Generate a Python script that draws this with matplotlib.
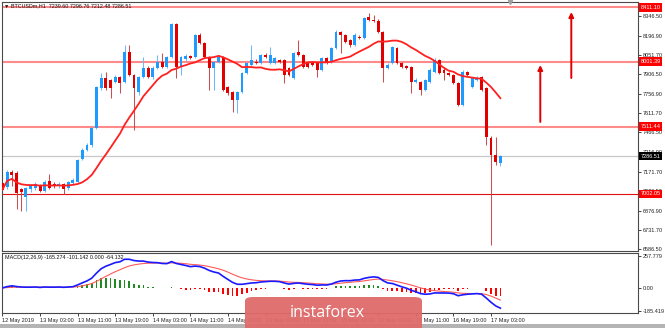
import numpy as np
import pandas as pd
import matplotlib
matplotlib.use("Agg")
import matplotlib.pyplot as plt
import matplotlib.transforms as mtransforms
from matplotlib.patches import Rectangle, FancyBboxPatch

# ---------------- data ----------------
opens = [7085, 7055, 7168, 7160, 7040, 6980, 7040, 7045, 7065, 7025,
         7100, 7075, 7060, 7075, 7045, 7085, 7095, 7265, 7335, 7370,
         7500, 7803, 7878, 7863, 7848, 7886, 7848, 8074, 7900, 7772,
         7886, 7954, 7886, 7954, 7999, 7961, 8037, 8286, 7961, 8020,
         8044, 8037, 8203, 8142, 8037, 7954, 7999, 8037, 7810, 7772,
         7712, 7772, 7916, 7976, 8000, 7991, 8052, 7991, 7991, 8014,
         8014, 7954, 7878, 8074, 8052, 7999, 7991, 7991, 7939, 8029,
         7999, 8105, 8225, 8203, 8165, 8127, 8188, 8180, 8339, 8316,
         8309, 8225, 7954, 7991, 8105, 7991, 7965, 7961, 7848, 7848,
         7787, 7848, 7923, 8014, 7939, 7916, 7900, 7840, 7674, 7923,
         7810, 7863, 7886, 7803, 7425, 7296, 7239.60]
closes = [7035, 7168, 7145, 7010, 7020, 7045, 7060, 7075, 7025, 7095,
          7050, 7060, 7080, 7040, 7090, 7105, 7260, 7335, 7370, 7500,
          7810, 7878, 7803, 7803, 7886, 7840, 8074, 7900, 7803, 7886,
          7954, 7886, 7954, 7999, 7961, 8037, 8286, 7961, 8037, 8044,
          8029, 8203, 8142, 8037, 7954, 7999, 8037, 7787, 7765, 7712,
          7772, 7916, 7991, 8014, 7990, 8052, 8037, 8052, 8029, 7999,
          7900, 7900, 8067, 8052, 7961, 7961, 7976, 7939, 8029, 7991,
          8105, 8225, 8203, 8150, 8127, 8203, 8180, 8331, 8316, 8309,
          8225, 7954, 7976, 8112, 7991, 7961, 7954, 7848, 7863, 7787,
          7863, 7939, 8014, 7916, 7916, 7900, 7840, 7674, 7923, 7900,
          7878, 7878, 7787, 7432, 7296, 7244, 7286.51]
highs = [7100, 7180, 7180, 7175, 7050, 7055, 7080, 7090, 7075, 7105,
         7150, 7095, 7095, 7085, 7100, 7120, 7270, 7350, 7385, 7510,
         7815, 7916, 7923, 7870, 7900, 7895, 8127, 8127, 7910, 7895,
         8037, 7965, 7965, 8052, 8067, 8045, 8290, 8290, 8045, 8060,
         8050, 8210, 8215, 8150, 8045, 8010, 8050, 8045, 7820, 7780,
         7780, 7925, 8000, 8127, 8020, 8060, 8065, 8112, 8040, 8025,
         8020, 7960, 8075, 8165, 8060, 8010, 8000, 8000, 8040, 8040,
         8115, 8240, 8235, 8210, 8175, 8215, 8200, 8340, 8369, 8354,
         8320, 8235, 7990, 8120, 8115, 8000, 7975, 7970, 7875, 7855,
         7870, 7950, 8030, 8025, 7950, 7925, 7910, 7850, 7935, 7930,
         7885, 7895, 7895, 7810, 7440, 7432, 7296.76]
lows = [6975, 7040, 7060, 6885, 6875, 6870, 7020, 7030, 7015, 7015,
        7040, 7050, 7050, 7005, 7035, 7075, 7085, 7255, 7325, 7355,
        7490, 7790, 7790, 7727, 7840, 7765, 7840, 7890, 7485, 7750,
        7875, 7875, 7870, 7945, 7950, 7950, 8030, 7878, 7900, 8010,
        8020, 8030, 8135, 8030, 7787, 7787, 7990, 7780, 7750, 7621,
        7615, 7765, 7905, 7965, 7980, 7980, 8030, 7985, 7985, 7990,
        7840, 7890, 7870, 8045, 7950, 7950, 7970, 7885, 7930, 7980,
        7990, 8095, 8067, 8140, 8115, 8120, 8170, 8170, 8305, 8300,
        8215, 7848, 7945, 7980, 7980, 7950, 7945, 7765, 7840, 7750,
        7780, 7840, 7915, 7905, 7863, 7890, 7830, 7665, 7665, 7890,
        7800, 7855, 7780, 7372, 6617, 7220, 7212.48]

time_labels = ["12 May 2019", "13 May 03:00", "13 May 11:00", "13 May 19:00",
               "14 May 03:00", "14 May 11:00", "14 May 19:00", "15 May 03:00",
               "15 May 11:00", "15 May 19:00", "16 May 03:00", "16 May 11:00",
               "16 May 19:00", "17 May 03:00"]
label_every = 8

price_ticks = [8346.50, 8196.90, 8051.70, 7906.50, 7756.90, 7611.70, 7466.50,
               7316.90, 7171.70, 7026.50, 6876.90, 6731.70, 6586.50]
level_lines = [8411.10, 8001.39, 7511.44]
support_line = 7002.05
current_price = 7286.51
macd_ticks = [257.779, 0.0, -185.419]
macd_tick_labels = ["257.779", "0.00", "-185.419"]

ma_period = 15
arrow_x = [114.5, 121.1]
arrow_from = [7546, 7878]
arrow_to = [7976, 8376]

title_text = "\u25bc BTCUSDm,H1  7239.60 7296.76 7212.48 7286.51"
macd_text = "MACD(12,26,9) -165.274 -101.142 0.000 -64.132"

# ---------------- derived ----------------
o = np.array(opens, float); c = np.array(closes, float)
h = np.array(highs, float); l = np.array(lows, float)
n = len(o)
x = np.arange(n)
cs = pd.Series(c)
ma = cs.rolling(ma_period, min_periods=1).mean()
ema12 = cs.ewm(span=12, adjust=False).mean()
ema26 = cs.ewm(span=26, adjust=False).mean()
macd = ema12 - ema26
signal = macd.ewm(span=9, adjust=False).mean()
hist = macd - signal

# ---------------- figure ----------------
W, H = 665, 328
fig = plt.figure(figsize=(W / 100, H / 100), dpi=100)
fig.patch.set_facecolor("white")
plt.rcParams["font.family"] = ["Liberation Sans", "DejaVu Sans"]


def rect(x0, y0, x1, y1):
    return [x0 / W, 1 - y1 / H, (x1 - x0) / W, (y1 - y0) / H]


XL = (-0.1, 135.3)
FS = 4.0
frame_col = "#4a4a4a"

ax = fig.add_axes(rect(2, 2, 638, 251))
ax.set_xlim(*XL)
ax.set_ylim(6571.4, 8452.0)
for s in ax.spines.values():
    s.set_color(frame_col)
    s.set_linewidth(0.8)

bull = c >= o
body_col = np.where(bull, "#1E9BFF", "#E00000")
wick_col = np.where(bull, "#6DB8FF", "#C85050")

# horizontal levels
for lv in level_lines:
    ax.axhline(lv, color="#ff8a8a", lw=1.5, zorder=1)
ax.axhline(support_line, color="#e01010", lw=0.8, zorder=1)
ax.axhline(current_price, color="#c8c8c8", lw=0.9, zorder=1)

ax.vlines(x, l, h, colors=wick_col, lw=0.75, zorder=2)
body_h = np.maximum(np.abs(c - o), 4.0)
ax.bar(x, body_h, bottom=np.minimum(o, c), width=0.62, color=body_col,
       linewidth=0, zorder=3)

ax.plot(x, ma, color="#ff2020", lw=1.3, zorder=4)

for ax_, f_, t_ in zip(arrow_x, arrow_from, arrow_to):
    ax.annotate("", xy=(ax_, t_), xytext=(ax_, f_),
                arrowprops=dict(arrowstyle="-|>", color="#e00000", lw=1.4,
                                mutation_scale=7, shrinkA=0, shrinkB=0),
                zorder=5)

ax.set_xticks([])
ax.yaxis.tick_right()
ax.set_yticks(price_ticks)
ax.set_yticklabels([f"{v:.2f}" for v in price_ticks])
ax.tick_params(axis="y", length=2, width=0.6, pad=1.5, labelsize=FS,
               colors="#222222")

blend = mtransforms.blended_transform_factory(ax.transAxes, ax.transData)
for lv in level_lines + [support_line]:
    ax.text(1.004, lv, f"{lv:.2f}", transform=blend, fontsize=FS, color="white",
            ha="left", va="center", clip_on=False, zorder=10,
            bbox=dict(boxstyle="square,pad=0.3", fc="#ff0000", ec="none"))
ax.text(1.004, current_price, f"{current_price:.2f}", transform=blend,
        fontsize=FS, color="white", ha="left", va="center", clip_on=False,
        zorder=10, bbox=dict(boxstyle="square,pad=0.3", fc="#000000", ec="none"))

# small shift marker at the top
ax.plot([108.1], [1.0], marker="v", ms=3, color="#a0a0a0",
        transform=mtransforms.blended_transform_factory(ax.transData, ax.transAxes),
        clip_on=False, zorder=6)

fig.text(4 / W, 1 - 5.5 / H, title_text, fontsize=3.9, color="#111111",
         ha="left", va="center")

# ---------------- MACD panel ----------------
ax2 = fig.add_axes(rect(2, 253, 638, 313))
ax2.set_xlim(*XL)
ax2.set_ylim(-205, 285)
for s in ax2.spines.values():
    s.set_color(frame_col)
    s.set_linewidth(0.8)
hcol = np.where(hist >= 0, "#1f8a1f", "#ff0000")
ax2.bar(x, hist, width=0.36, color=hcol, linewidth=0, zorder=2)
ax2.plot(x, signal, color="#ff5a5a", lw=0.8, zorder=3)
ax2.plot(x, macd, color="#1a1aff", lw=1.2, zorder=4)

ax2.yaxis.tick_right()
ax2.set_yticks(macd_ticks)
ax2.set_yticklabels(macd_tick_labels)
ax2.tick_params(axis="y", length=2, width=0.6, pad=1.5, labelsize=FS,
                colors="#222222")
tick_pos = np.arange(len(time_labels)) * label_every
ax2.set_xticks(tick_pos)
ax2.set_xticklabels(time_labels, ha="left")
ax2.tick_params(axis="x", length=2, width=0.6, pad=1.5, labelsize=FS,
                colors="#222222")
ax2.text(0.004, 0.93, macd_text, transform=ax2.transAxes, fontsize=3.9,
         color="#111111", ha="left", va="center")

# bottom gray bar
fig.patches.append(Rectangle((0, 0), 1, 4 / H, transform=fig.transFigure,
                             fc="#b4b4b4", ec="none", zorder=0))

# watermark
fig.patches.append(FancyBboxPatch((245 / W, -0.02), 177 / W, (328 - 297) / H + 0.02,
                                  boxstyle="round,pad=0,rounding_size=0.012",
                                  transform=fig.transFigure, fc="#e06a6a",
                                  ec="none", alpha=0.95, zorder=20))
fig.text(290 / W, 1 - 313 / H, "instaforex", fontsize=11.5, color="white",
         family=["Open Sans", "DejaVu Sans"], ha="left", va="center", zorder=21)

fig.savefig("out.png", dpi=100)
